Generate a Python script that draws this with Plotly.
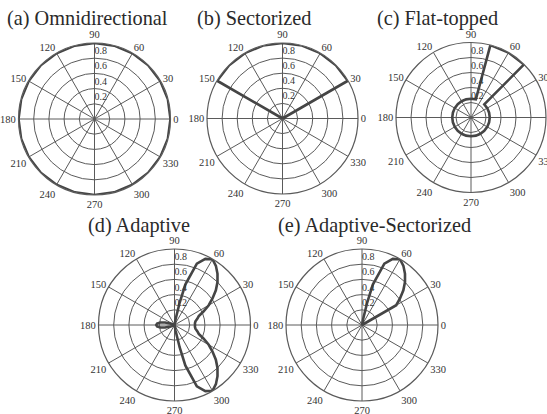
import plotly.graph_objects as go

# readings from the picture (theta in degrees, r normalised gain)
omni_theta = [0, 15, 30, 45, 60, 75, 90, 105, 120, 135, 150, 165, 180,
              195, 210, 225, 240, 255, 270, 285, 300, 315, 330, 345, 360]
omni_r = [1.0, 1.0, 1.0, 1.0, 1.0, 1.0, 1.0, 1.0, 1.0, 1.0, 1.0, 1.0, 1.0,
          1.0, 1.0, 1.0, 1.0, 1.0, 1.0, 1.0, 1.0, 1.0, 1.0, 1.0, 1.0]

sector_theta = [30, 30, 45, 60, 75, 90, 105, 120, 135, 150, 150]
sector_r = [0.0, 1.0, 1.0, 1.0, 1.0, 1.0, 1.0, 1.0, 1.0, 1.0, 0.0]

flat_theta = [0, 15, 30, 45, 45, 60, 75, 75, 90, 105, 120, 135, 150, 165, 180,
              195, 210, 225, 240, 255, 270, 285, 300, 315, 330, 345, 360]
flat_r = [0.25, 0.25, 0.25, 0.25, 1.0, 1.0, 1.0, 0.25, 0.25, 0.25, 0.25, 0.25, 0.25, 0.25, 0.25,
          0.25, 0.25, 0.25, 0.25, 0.25, 0.25, 0.25, 0.25, 0.25, 0.25, 0.25, 0.25]

adapt_theta = [0, 5, 10, 15, 20, 25, 30, 35, 40, 45, 50, 55, 60, 65, 70, 75, 77, 79, 81,
               90, 120, 150, 155, 160, 165, 170, 175, 180, 185, 190, 195, 200, 205, 210,
               240, 270, 279, 281, 283, 285, 290, 295, 300, 305, 310, 315, 320, 325, 330,
               335, 340, 345, 350, 355, 360]
adapt_r = [0.27, 0.27, 0.28, 0.31, 0.34, 0.42, 0.52, 0.61, 0.71, 0.80, 0.88, 0.95, 1.0, 0.96, 0.86, 0.55, 0.30, 0.08, 0.0,
           0.0, 0.0, 0.0, 0.02, 0.06, 0.13, 0.19, 0.23, 0.24, 0.23, 0.19, 0.13, 0.06, 0.02, 0.0,
           0.0, 0.0, 0.0, 0.08, 0.30, 0.55, 0.86, 0.96, 1.0, 0.95, 0.88, 0.80, 0.71, 0.61, 0.52,
           0.42, 0.34, 0.31, 0.28, 0.27, 0.27]

adsec_theta = [30, 30, 35, 40, 45, 50, 55, 60, 65, 70, 75, 77, 79, 81]
adsec_r = [0.0, 0.52, 0.61, 0.71, 0.80, 0.88, 0.95, 1.0, 0.96, 0.86, 0.55, 0.30, 0.08, 0.0]

titles = ["(a) Omnidirectional", "(b) Sectorized", "(c) Flat-topped",
          "(d) Adaptive", "(e) Adaptive-Sectorized"]
radial_ticks = [0.2, 0.4, 0.6, 0.8]
radial_labels = ["0.2", "0.4", "0.6", "0.8"]
angle_ticks = [0, 30, 60, 90, 120, 150, 180, 210, 240, 270, 300, 330]

W, H = 547, 414
# (centre x, centre y, radius) in pixels, top-left origin
polars = [(94.5, 119, 76), (282.5, 118.5, 75.5), (471, 117.5, 75),
          (174.5, 325, 76), (362, 325, 76)]
title_pos = [(5, 18.5), (195, 18.5), (375, 18.5), (86, 225.5), (276, 225.5)]

series = [(omni_theta, omni_r), (sector_theta, sector_r), (flat_theta, flat_r),
          (adapt_theta, adapt_r), (adsec_theta, adsec_r)]

FONT = "Liberation Serif"
GRID = "#5a5a5a"
LINE = "#454545"
TXT = "#333333"

fig = go.Figure()
layout = {}
for i, (th, rr) in enumerate(series):
    name = "polar" if i == 0 else "polar%d" % (i + 1)
    fig.add_trace(go.Scatterpolar(theta=th, r=rr, mode="lines", subplot=name,
                                  line=dict(color=LINE, width=2.6), showlegend=False,
                                  hoverinfo="skip"))
    # radial tick labels sit just above each ring, right of the 90 degree spoke
    fig.add_trace(go.Scatterpolar(theta=[90] * len(radial_ticks),
                                  r=[t + 0.085 for t in radial_ticks],
                                  text=radial_labels, mode="text", textposition="middle right",
                                  textfont=dict(family=FONT, size=10, color=TXT),
                                  subplot=name, showlegend=False, hoverinfo="skip"))
    cx, cy, rad = polars[i]
    layout[name] = dict(
        domain=dict(x=[(cx - rad) / W, (cx + rad) / W],
                    y=[(H - cy - rad) / H, (H - cy + rad) / H]),
        bgcolor="white",
        radialaxis=dict(range=[0, 1], tickvals=radial_ticks, showticklabels=False,
                        angle=90, showline=False, ticks="",
                        gridcolor=GRID, gridwidth=1),
        angularaxis=dict(tickvals=angle_ticks, ticktext=[str(a) for a in angle_ticks],
                         direction="counterclockwise", rotation=0, ticks="", ticklen=0,
                         showline=True, linecolor=GRID, linewidth=1.2, color=TXT,
                         gridcolor=GRID, gridwidth=1,
                         tickfont=dict(family=FONT, size=10.5, color=TXT)),
    )

annotations = []
for (tx, ty), t in zip(title_pos, titles):
    annotations.append(dict(text=t, x=tx / W, y=1 - ty / H, xref="paper", yref="paper",
                            xanchor="left", yanchor="middle", showarrow=False,
                            font=dict(family=FONT, size=20.3, color="#2a2a2a")))

fig.update_layout(width=W, height=H, margin=dict(l=0, r=0, t=0, b=0),
                  paper_bgcolor="white", plot_bgcolor="white",
                  font=dict(family=FONT),
                  annotations=annotations, **layout)

# the page body has a default 8px margin; drop it so the figure sits at the window corner
fig.write_html("out.html", config={"displayModeBar": False},
               post_script="document.body.style.margin='0px';")
